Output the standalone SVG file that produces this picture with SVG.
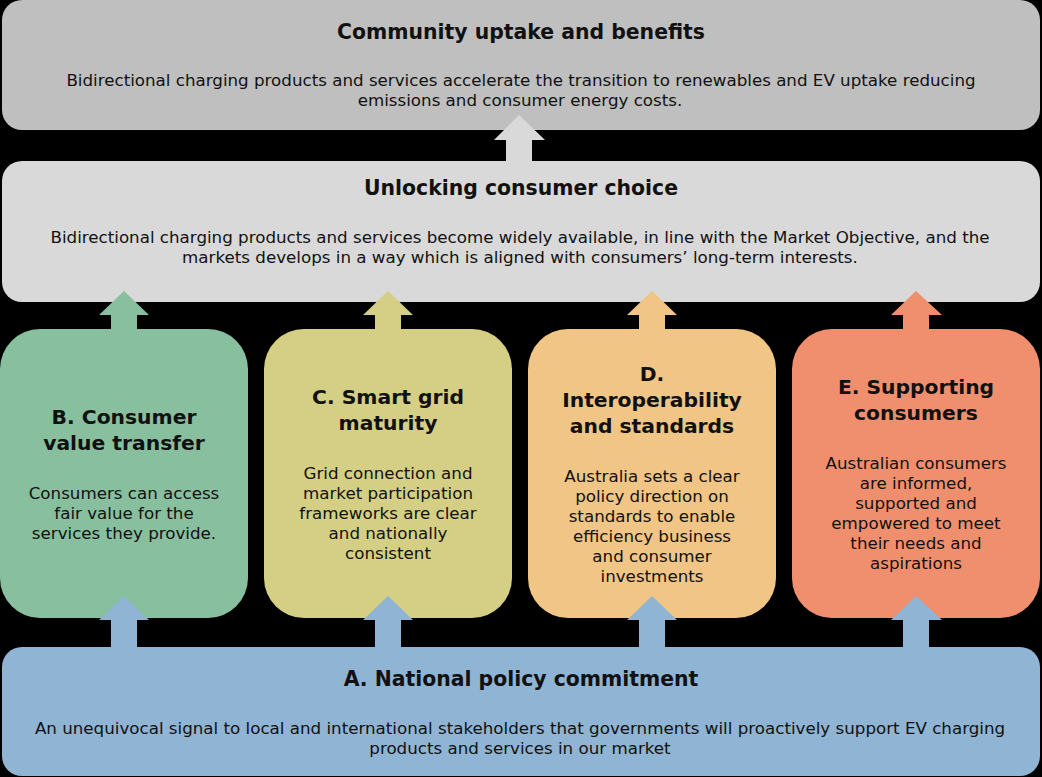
<svg xmlns="http://www.w3.org/2000/svg" width="1042" height="777" viewBox="0 0 1042 777">
<style>
text{font-family:"DejaVu Sans",sans-serif;fill:#111;text-anchor:middle}
.t{font-size:20.4px;font-weight:bold}
.ct{font-size:20.3px;font-weight:bold}
.b{font-size:16.7px}
</style>
<rect x="0" y="0" width="1042" height="777" fill="#000"/>
<g id="community">
<rect x="2" y="0" width="1038" height="130" rx="20" fill="#bfbfbf"/>
<text class="t" x="521" y="39">Community uptake and benefits</text>
<text class="b" x="521" y="86">Bidirectional charging products and services accelerate the transition to renewables and EV uptake reducing</text>
<text class="b" x="520" y="106">emissions and consumer energy costs.</text>
</g>
<g id="choice">
<rect x="2" y="161" width="1038" height="141" rx="20" fill="#d9d9d9"/>
<text class="t" x="521" y="195">Unlocking consumer choice</text>
<text class="b" x="520" y="243">Bidirectional charging products and services become widely available, in line with the Market Objective, and the</text>
<text class="b" x="520" y="263">markets develops in a way which is aligned with consumers’ long-term interests.</text>
</g>
<g id="nodeB">
<rect x="0" y="329" width="248" height="289" rx="40" fill="#88bf9e"/>
<text class="ct" x="124" y="424">B. Consumer</text>
<text class="ct" x="124" y="450">value transfer</text>
<text class="b" x="124" y="499">Consumers can access</text>
<text class="b" x="124" y="519">fair value for the</text>
<text class="b" x="124" y="539">services they provide.</text>
</g>
<g id="nodeC">
<rect x="264" y="329" width="248" height="289" rx="40" fill="#d4cf85"/>
<text class="ct" x="388" y="404">C. Smart grid</text>
<text class="ct" x="388" y="430">maturity</text>
<text class="b" x="388" y="479">Grid connection and</text>
<text class="b" x="388" y="499">market participation</text>
<text class="b" x="388" y="519">frameworks are clear</text>
<text class="b" x="388" y="539">and nationally</text>
<text class="b" x="388" y="559">consistent</text>
</g>
<g id="nodeD">
<rect x="528" y="329" width="248" height="289" rx="40" fill="#f0c585"/>
<text class="ct" x="652" y="381">D.</text>
<text class="ct" x="652" y="407">Interoperability</text>
<text class="ct" x="652" y="433">and standards</text>
<text class="b" x="652" y="482">Australia sets a clear</text>
<text class="b" x="652" y="502">policy direction on</text>
<text class="b" x="652" y="522">standards to enable</text>
<text class="b" x="652" y="542">efficiency business</text>
<text class="b" x="652" y="562">and consumer</text>
<text class="b" x="652" y="582">investments</text>
</g>
<g id="nodeE">
<rect x="792" y="329" width="248" height="289" rx="40" fill="#f08f6e"/>
<text class="ct" x="916" y="394">E. Supporting</text>
<text class="ct" x="916" y="420">consumers</text>
<text class="b" x="916" y="469">Australian consumers</text>
<text class="b" x="916" y="489">are informed,</text>
<text class="b" x="916" y="509">supported and</text>
<text class="b" x="916" y="529">empowered to meet</text>
<text class="b" x="916" y="549">their needs and</text>
<text class="b" x="916" y="569">aspirations</text>
</g>
<g id="nodeA">
<rect x="2" y="647" width="1038" height="129" rx="20" fill="#8fb4d4"/>
<text class="t" x="521" y="686">A. National policy commitment</text>
<text class="b" x="520" y="734">An unequivocal signal to local and international  stakeholders that governments will proactively support EV charging</text>
<text class="b" x="520" y="754">products and services in our market</text>
</g>
<g id="connectors">
<polygon fill="#d9d9d9" points="519,115 545,140 532,140 532,163 506,163 506,140 494,140"/>
<polygon fill="#88bf9e" points="124,291 149,315 137,315 137,331 111,331 111,315 99,315"/>
<polygon fill="#d4cf85" points="388,291 413,315 401,315 401,331 375,331 375,315 363,315"/>
<polygon fill="#f0c585" points="652,291 677,315 665,315 665,331 639,331 639,315 627,315"/>
<polygon fill="#f08f6e" points="916,291 942,315 929,315 929,331 903,331 903,315 891,315"/>
<polygon fill="#8fb4d4" points="124,596 149,620 137,620 137,649 111,649 111,620 99,620"/>
<polygon fill="#8fb4d4" points="388,596 413,620 401,620 401,649 375,649 375,620 363,620"/>
<polygon fill="#8fb4d4" points="652,596 677,620 665,620 665,649 639,649 639,620 627,620"/>
<polygon fill="#8fb4d4" points="916,596 942,620 929,620 929,649 903,649 903,620 891,620"/>
</g>
</svg>
